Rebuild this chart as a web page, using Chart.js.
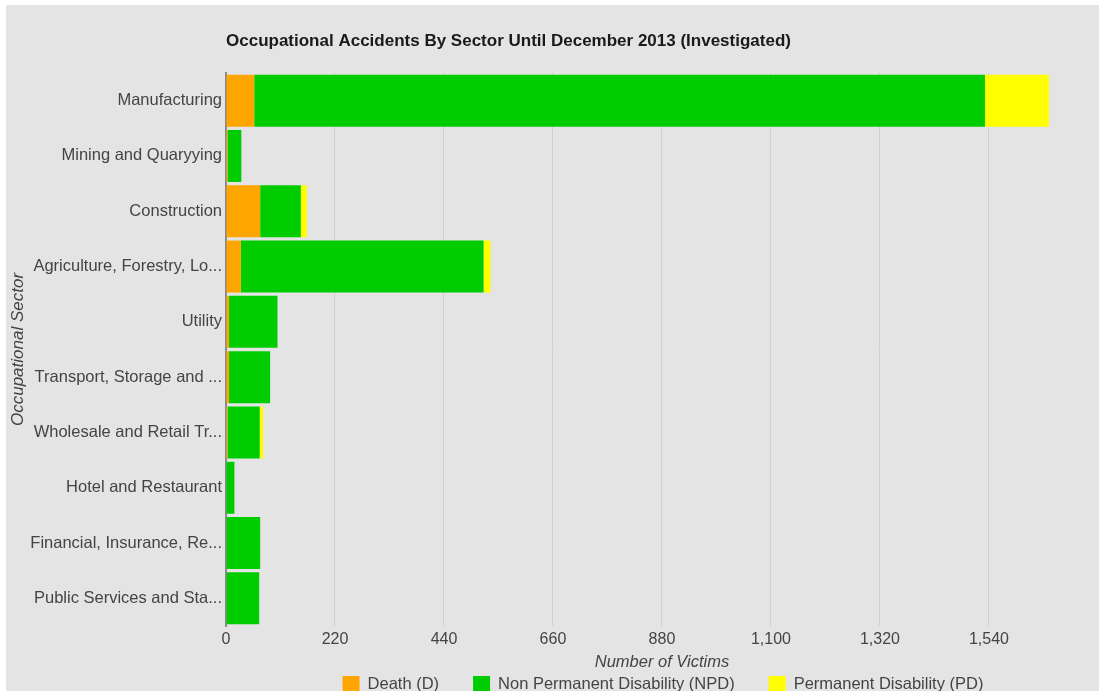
<!DOCTYPE html>
<html>
<head>
<meta charset="utf-8">
<script src="https://cdn.jsdelivr.net/npm/chart.js@4.4.1/dist/chart.umd.min.js"></script>
<style>
  html, body { margin: 0; padding: 0; background: #fff; overflow: hidden; }
  #wrap { position: absolute; left: 6px; top: 5px; width: 1093px; height: 700px; background: #e4e4e4; }
</style>
</head>
<body>
<div id="wrap"><canvas id="accidentsChart" width="1093" height="700"></canvas></div>
<script>
const sectors = [
    'Manufacturing',
    'Mining and Quaryying',
    'Construction',
    'Agriculture, Forestry, Lo...',
    'Utility',
    'Transport, Storage and ...',
    'Wholesale and Retail Tr...',
    'Hotel and Restaurant',
    'Financial, Insurance, Re...',
    'Public Services and Sta...'
];
const deathValues = [57, 3, 69, 30, 6, 6, 3, 0, 0, 0];
const npdValues = [1475, 28, 82, 490, 98, 83, 65, 17, 69, 67];
const pdValues = [129, 0, 12, 14, 0, 0, 7, 0, 0, 0];
const xTicks = [0, 220, 440, 660, 880, 1100, 1320, 1540];

const chartTitle = 'Occupational Accidents By Sector Until December 2013 (Investigated)';
const fontFamily = '"Liberation Sans", Arial, sans-serif';
const labelColor = '#444444';

// title sits at the left of the plot area, like the original
const titlePlugin = {
    id: 'leftTitle',
    afterDraw: (chart) => {
        let ctx = chart.ctx;
        ctx.save();
        ctx.font = 'bold 17px ' + fontFamily;
        ctx.fillStyle = '#1a1a1a';
        ctx.textBaseline = 'middle';
        ctx.textAlign = 'left';
        ctx.fillText(chartTitle, chart.chartArea.left, 36);
        ctx.restore();
    }
};

// legend under the x axis title, centered on the plot
const legendPlugin = {
    id: 'bottomLegend',
    afterDraw: (chart) => {
        let ctx = chart.ctx;
        ctx.save();
        ctx.font = '16.5px ' + fontFamily;
        ctx.textBaseline = 'middle';
        ctx.textAlign = 'left';
        let items = chart.data.datasets.map(ds => ({ label: ds.label, color: ds.backgroundColor }));
        let box = 17, gap = 8, spacing = 34;
        let total = 0;
        items.forEach((it, i) => {
            total += box + gap + ctx.measureText(it.label).width;
            if (i < items.length - 1) total += spacing;
        });
        let x = (chart.chartArea.left + chart.chartArea.right) / 2 - total / 2 + 5;
        let y = 679;
        items.forEach(it => {
            ctx.fillStyle = it.color;
            ctx.fillRect(x, y - 8, box, 17);
            x += box + gap;
            ctx.fillStyle = labelColor;
            ctx.fillText(it.label, x, y);
            x += ctx.measureText(it.label).width + spacing;
        });
        ctx.restore();
    }
};

let ctx = document.getElementById('accidentsChart').getContext('2d');
let accidentsChart = new Chart(ctx, {
    type: 'bar',
    data: {
        labels: sectors,
        datasets: [
            { label: 'Death (D)', data: deathValues, backgroundColor: '#ffa500' },
            { label: 'Non Permanent Disability (NPD)', data: npdValues, backgroundColor: '#00cc00' },
            { label: 'Permanent Disability (PD)', data: pdValues, backgroundColor: '#ffff00' }
        ]
    },
    options: {
        indexAxis: 'y',
        responsive: false,
        animation: false,
        layout: { padding: { top: 68, right: 9, left: 0, bottom: 49 } },
        datasets: {
            bar: { categoryPercentage: 1, barPercentage: 0.94 }
        },
        plugins: {
            legend: { display: false },
            title: { display: false },
            tooltip: { enabled: false }
        },
        scales: {
            x: {
                stacked: true,
                min: 0,
                max: 1744,
                afterBuildTicks: (axis) => {
                    axis.ticks = xTicks.map(v => ({ value: v }));
                },
                afterFit: (axis) => { axis.height = 30; },
                grid: { color: '#cfcfcf', drawTicks: false },
                border: { display: false },
                ticks: {
                    color: labelColor,
                    font: { family: fontFamily, size: 16 },
                    padding: 4,
                    maxRotation: 0,
                    autoSkip: false,
                    callback: (v) => v.toLocaleString('en-US')
                }
            },
            y: {
                stacked: true,
                afterFit: (axis) => { axis.width = 220; },
                grid: { display: false, drawTicks: false },
                border: { display: true, color: '#8a8a8a', width: 2 },
                ticks: {
                    color: labelColor,
                    font: { family: fontFamily, size: 16.5 },
                    padding: 4
                },
                title: {
                    display: true,
                    text: 'Occupational Sector',
                    color: labelColor,
                    font: { family: fontFamily, size: 17, style: 'italic' },
                    padding: { top: 2, bottom: 0 }
                }
            }
        }
    },
    plugins: [titlePlugin, legendPlugin, {
        id: 'xTitle',
        afterDraw: (chart) => {
            let c = chart.ctx;
            c.save();
            c.font = 'italic 16.5px ' + fontFamily;
            c.fillStyle = labelColor;
            c.textAlign = 'center';
            c.textBaseline = 'middle';
            c.fillText('Number of Victims', (chart.chartArea.left + chart.chartArea.right) / 2 + 4, 657);
            c.restore();
        }
    }]
});
</script>
</body>
</html>
